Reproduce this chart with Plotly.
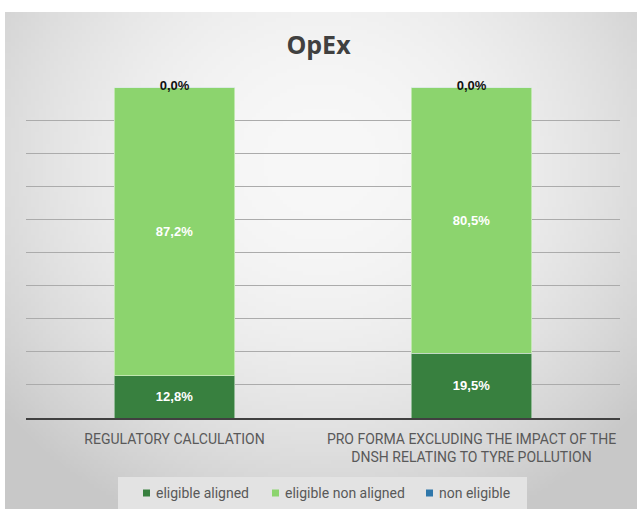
import base64
import struct
import zlib

import numpy as np
import plotly.graph_objects as go

# ---- data -------------------------------------------------------------
categories = [
    "REGULATORY CALCULATION",
    "PRO FORMA EXCLUDING THE IMPACT OF THE<br>DNSH RELATING TO TYRE POLLUTION",
]
eligible_aligned = [12.8, 19.5]
eligible_non_aligned = [87.2, 80.5]
non_eligible = [0.0, 0.0]

series_names = ["eligible aligned", "eligible non aligned", "non eligible"]
series_colors = ["#38803f", "#8cd46e", "#2f77aa"]

W, H = 637, 509
M_L, M_R, M_T, M_B = 26, 17, 87, 91
PW, PH = W - M_L - M_R, H - M_T - M_B


def px_x(p):
    """pixel column -> paper x"""
    return (p - M_L) / PW


def px_y(p):
    """pixel row -> paper y"""
    return (H - M_B - p) / PH


def pct(v):
    return f"{v:.1f}%".replace(".", ",")


def png_data_uri(rgb):
    """Encode an HxWx3 uint8 array as a PNG data URI."""
    h, w, _ = rgb.shape
    raw = b"".join(b"\x00" + rgb[i].tobytes() for i in range(h))

    def chunk(tag, data):
        c = struct.pack(">I", len(data)) + tag + data
        return c + struct.pack(">I", zlib.crc32(tag + data) & 0xFFFFFFFF)

    png = b"\x89PNG\r\n\x1a\n"
    png += chunk(b"IHDR", struct.pack(">IIBBBBB", w, h, 8, 2, 0, 0, 0))
    png += chunk(b"IDAT", zlib.compress(raw, 9))
    png += chunk(b"IEND", b"")
    return "data:image/png;base64," + base64.b64encode(png).decode()


# soft radial grey backdrop of the chart panel
gw, gh = 160, 126
yy, xx = np.mgrid[0:gh, 0:gw]
r2 = ((xx / (gw - 1) - 0.5) / 0.62) ** 2 + ((yy / (gh - 1) - 0.30) / 0.75) ** 2
shade = np.clip(248 - 42 * r2, 200, 248).astype(np.uint8)
panel = np.dstack([shade, shade, shade])

fig = go.Figure()

bar_font = dict(color="white", size=13, family="Liberation Sans", weight="bold")
for vals, name, color in [(eligible_aligned, series_names[0], series_colors[0]),
                          (eligible_non_aligned, series_names[1], series_colors[1])]:
    fig.add_trace(go.Bar(
        x=categories, y=vals, name=name,
        marker=dict(color=color, line=dict(color="rgba(255,255,255,0.45)", width=1)),
        text=[pct(v) for v in vals], textposition="inside", insidetextanchor="middle",
        textfont=bar_font, showlegend=False,
    ))
fig.add_trace(go.Bar(
    x=categories, y=non_eligible, name=series_names[2],
    marker=dict(color=series_colors[2]), showlegend=False,
))

# labels for the empty top segment, sitting on the stack total
totals = [a + b + c for a, b, c in zip(eligible_aligned, eligible_non_aligned, non_eligible)]
fig.add_trace(go.Scatter(
    x=categories, y=totals, mode="text", cliponaxis=False,
    text=[pct(v) for v in non_eligible], textposition="middle center",
    textfont=dict(color="#111111", size=13, family="Liberation Sans", weight="bold"),
    showlegend=False, hoverinfo="skip",
))

# legend box with swatches and entry labels
shapes = [dict(type="rect", xref="paper", yref="paper", layer="below",
               x0=px_x(118), x1=px_x(527), y0=px_y(477), y1=px_y(509),
               fillcolor="#e3e3e3", line=dict(width=0))]
annotations = []
legend_starts = [143, 272, 426]
for start, name, color in zip(legend_starts, series_names, series_colors):
    shapes.append(dict(type="rect", xref="paper", yref="paper",
                       x0=px_x(start), x1=px_x(start + 7),
                       y0=px_y(496.5), y1=px_y(489.5),
                       fillcolor=color, line=dict(width=0)))
    annotations.append(dict(text=name, xref="paper", yref="paper",
                            x=px_x(start + 11), y=px_y(493),
                            xanchor="left", yanchor="middle", showarrow=False,
                            font=dict(family="Roboto", size=14, color="#595959")))

fig.update_layout(
    width=W, height=H,
    margin=dict(l=M_L, r=M_R, t=M_T, b=M_B, autoexpand=False),
    barmode="stack", bargap=0.595,
    paper_bgcolor="white", plot_bgcolor="rgba(0,0,0,0)",
    title=dict(text="<b>OpEx</b>", x=0.5, xanchor="center", y=1 - 45 / H, yanchor="middle",
               font=dict(family="Open Sans", size=25, color="#404040")),
    showlegend=False,
    xaxis=dict(showline=True, linecolor="#404040", linewidth=2, ticks="",
               tickfont=dict(family="Roboto", size=14, color="#595959"),
               ticklabelstandoff=7,
               showgrid=False, fixedrange=True, automargin=False),
    yaxis=dict(range=[0, 100], dtick=10, showticklabels=False, showgrid=True,
               gridcolor="#ababab", gridwidth=1, zeroline=False, fixedrange=True,
               automargin=False),
    shapes=shapes,
    annotations=annotations,
    images=[dict(source=png_data_uri(panel), xref="paper", yref="paper",
                 x=px_x(5), y=px_y(12), sizex=(W - 5) / PW, sizey=(H - 12) / PH,
                 sizing="stretch", layer="below", xanchor="left", yanchor="top")],
)

fig.write_html("out.html")
